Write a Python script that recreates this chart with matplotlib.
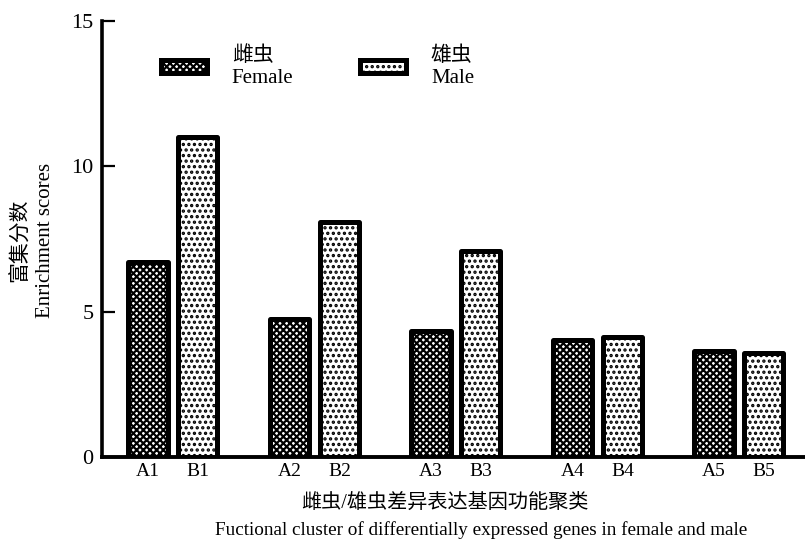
import matplotlib
matplotlib.use("Agg")
import matplotlib.pyplot as plt
import numpy as np

plt.rcParams['font.family'] = ['Liberation Serif', 'Noto Sans CJK SC']
plt.rcParams['hatch.linewidth'] = 1.6

groups = ['1', '2', '3', '4', '5']
female_labels = ['A1', 'A2', 'A3', 'A4', 'A5']
male_labels = ['B1', 'B2', 'B3', 'B4', 'B5']
female = [6.7, 4.75, 4.33, 4.02, 3.65]
male = [11.0, 8.1, 7.08, 4.12, 3.58]

yticks = [0, 5, 10, 15]

fig = plt.figure(figsize=(8.05, 5.44), dpi=100)
ax = fig.add_axes([102/805, (544-457)/544, 1 - 102/805, (457-21)/544])

x = np.arange(len(groups))
off = 0.353
w = 0.276
bf = ax.bar(x, female, width=w, facecolor='white', edgecolor='black',
            linewidth=3.6, hatch='xxxxx', joinstyle='round', label='雌虫\nFemale')
bm = ax.bar(x + off, male, width=w, facecolor='white', edgecolor='black',
            linewidth=3.6, hatch='...', joinstyle='round', label='雄虫\nMale')

ax.set_xlim(-0.325, 4.643)
ax.set_ylim(0, 15)
ax.set_yticks(yticks)
ax.set_yticklabels([str(t) for t in yticks], fontsize=16)

ticks = np.concatenate([x, x + off])
labs = female_labels + male_labels
ax.set_xticks(ticks)
ax.set_xticklabels(labs, fontsize=14)
ax.tick_params(axis='x', length=0, pad=4)
ax.tick_params(axis='y', direction='in', length=9, width=1.6, pad=6)

for s in ['top', 'right']:
    ax.spines[s].set_visible(False)
ax.spines['left'].set_linewidth(2.6)
ax.spines['bottom'].set_linewidth(2.8)

fig.text(33/805, 1 - 240/544, '富集分数\nEnrichment scores', rotation=90,
         ha='center', va='center', fontsize=15, linespacing=1.4)
fig.text(445/805, 1 - 503/544, '雌虫/雄虫差异表达基因功能聚类', ha='center', va='center', fontsize=14.5)
fig.text(481/805, 1 - 530/544,
         'Fuctional cluster of differentially expressed genes in female and male',
         ha='center', va='center', fontsize=13.8)

leg = ax.legend(handles=[bf, bm], ncol=2, frameon=False, fontsize=15,
                loc='center left', bbox_to_anchor=((161-102)/703, (457-67)/436),
                handlelength=2.2, handleheight=0.58, handletextpad=1.2,
                columnspacing=3.2, borderpad=0, borderaxespad=0)

fig.savefig('out.png', dpi=100)
